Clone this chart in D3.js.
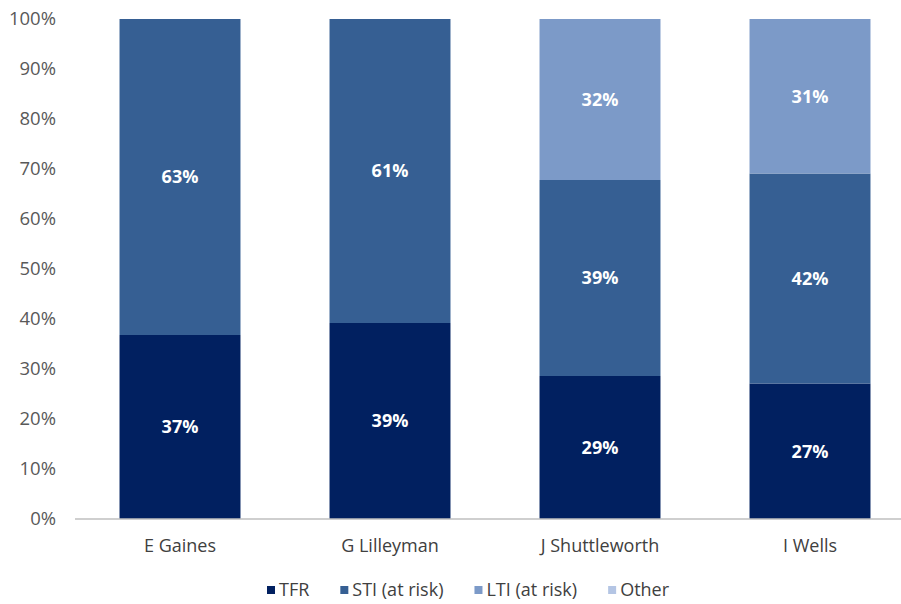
<!DOCTYPE html>
<html><head><meta charset="utf-8">
<script src="https://cdn.jsdelivr.net/npm/d3@7"></script>
<style>body{margin:0;background:#fff}svg{display:block}</style>
</head><body>
<svg id="c" width="901" height="604"></svg>
<script>
const categories = ["E Gaines", "G Lilleyman", "J Shuttleworth", "I Wells"];
const seriesNames = ["TFR", "STI (at risk)", "LTI (at risk)", "Other"];
const tfr = [36.8, 39.2, 28.6, 27.1];
const sti = [63.2, 60.8, 39.2, 42.0];
const lti = [0, 0, 32.2, 30.9];
const other = [0, 0, 0, 0];
const yTicks = [0, 10, 20, 30, 40, 50, 60, 70, 80, 90, 100];
const colors = ["#012060", "#365f93", "#7c9ac8", "#b4c5e4"];

const svg = d3.select("#c");
const font = "'Open Sans', 'Liberation Sans', sans-serif";
const m = {l: 75, r: -14, t: 19, b: 85};
const W = 901, H = 604;
const x = d3.scaleBand().domain(categories).range([m.l, W - m.r]).paddingInner(0.424).paddingOuter(0.212);
const y = d3.scaleLinear().domain([0, 100]).range([H - m.b, m.t]);

const rows = categories.map((c, i) => ({cat: c, TFR: tfr[i], "STI (at risk)": sti[i], "LTI (at risk)": lti[i], Other: other[i]}));
const stack = d3.stack().keys(seriesNames)(rows);

// y axis labels
const ya = svg.append("g").attr("transform", `translate(${m.l - 19},0)`)
  .call(d3.axisLeft(y).tickValues(yTicks).tickFormat(d => d + "%").tickSize(0).tickPadding(0));
ya.select(".domain").remove();
ya.selectAll("text").attr("font-family", font).attr("font-size", 18.5).attr("fill", "#595959");

stack.forEach((s, si) => {
  const g = svg.append("g");
  g.selectAll("rect").data(s).join("rect")
    .attr("x", d => x(d.data.cat)).attr("width", x.bandwidth())
    .attr("y", d => y(d[1])).attr("height", d => y(d[0]) - y(d[1]))
    .attr("fill", colors[si]);
  g.selectAll("text").data(s.filter(d => d[1] - d[0] > 0)).join("text")
    .attr("x", d => x(d.data.cat) + x.bandwidth() / 2)
    .attr("y", d => y((d[0] + d[1]) / 2))
    .attr("dy", "0.35em").attr("text-anchor", "middle")
    .attr("font-family", font).attr("font-weight", "bold").attr("font-size", 18)
    .attr("fill", "#ffffff")
    .text(d => Math.round(d[1] - d[0]) + "%");
});

// x axis
const xa = svg.append("g").attr("transform", `translate(0,${H - m.b})`)
  .call(d3.axisBottom(x).tickSize(0).tickPadding(20));
xa.select(".domain").attr("stroke", "#bfbfbf").attr("stroke-width", 1.5).attr("d", `M${m.l},0H${W}`);
xa.selectAll("text").attr("font-family", font).attr("font-size", 18).attr("fill", "#404040");

// legend
const leg = svg.append("g").attr("transform", `translate(0,${590})`);
let lx = 267;
seriesNames.forEach((n, i) => {
  leg.append("rect").attr("x", lx).attr("y", -4).attr("width", 8).attr("height", 8).attr("fill", colors[i]);
  const t = leg.append("text").attr("x", lx + 12).attr("y", 0).attr("dy", "0.35em")
    .attr("font-family", font).attr("font-size", 18).attr("fill", "#404040").text(n);
  lx += 12 + t.node().getComputedTextLength() + 31;
});
</script>
</body></html>
